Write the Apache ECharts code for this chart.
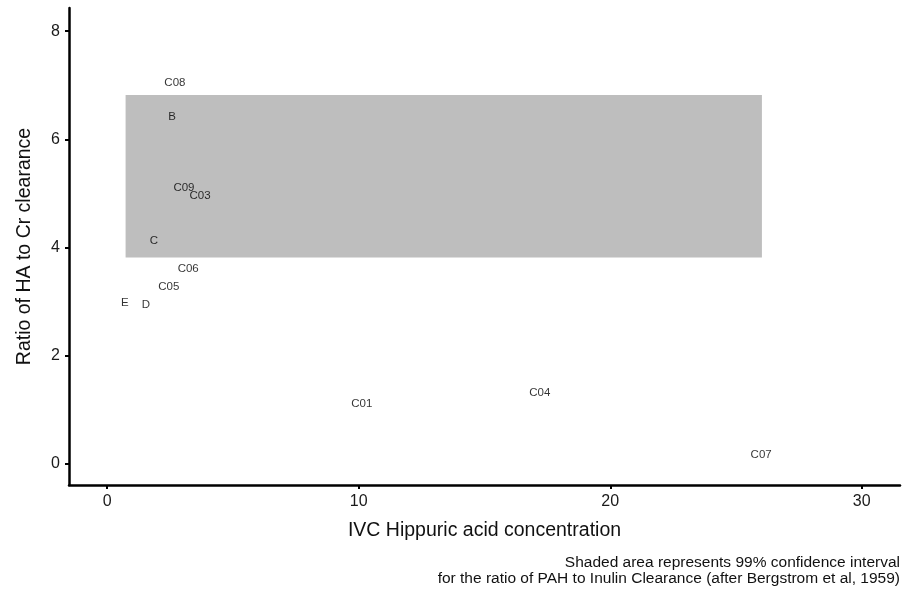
<!DOCTYPE html>
<html>
<head>
<meta charset="utf-8">
<script src="https://cdn.jsdelivr.net/npm/echarts@6/dist/echarts.min.js"></script>
<style>
  html, body { margin: 0; padding: 0; background: #fff; }
  #chart { width: 911px; height: 589px; }
</style>
</head>
<body>
<div id="chart"></div>
<script>
// point labels and their positions
const names = ['C08', 'B', 'C09', 'C03', 'C', 'C06', 'C05', 'E', 'D', 'C01', 'C04', 'C07'];
const hippuric = [2.69, 2.58, 3.05, 3.69, 1.86, 3.22, 2.45, 0.70, 1.54, 10.12, 17.2, 26.0];
const ratio = [7.05, 6.42, 5.11, 4.95, 4.12, 3.60, 3.26, 2.97, 2.93, 1.11, 1.30, 0.15];

// shaded confidence band
const bandX = [0.73, 26.03];
const bandY = [3.81, 6.82];

const xTicks = [0, 10, 20, 30];
const yTicks = [0, 2, 4, 6, 8];

const captionLines = [
	'Shaded area represents 99% confidence interval',
	'for the ratio of PAH to Inulin Clearance (after Bergstrom et al, 1959)'
];

const font = 'Liberation Sans, Arial, sans-serif';

const chart = echarts.init(document.getElementById('chart'));

const points = names.map((n, i) => ({ name: n, value: [hippuric[i], ratio[i]] }));

const option = {
	animation: false,
	grid: { left: 69, right: 11, top: 8, bottom: 104 },
	xAxis: {
		type: 'value',
		min: -1.52,
		max: 31.52,
		splitLine: { show: false },
		axisLine: { onZero: false, lineStyle: { color: '#000', width: 2.5 } },
		axisTick: { customValues: xTicks, length: 4, lineStyle: { color: '#000', width: 2 } },
		axisLabel: { customValues: xTicks, margin: 9, color: '#1a1a1a', fontSize: 16, fontFamily: font },
		name: 'IVC Hippuric acid concentration',
		nameLocation: 'middle',
		nameGap: 36,
		nameTextStyle: { color: '#111', fontSize: 19.5, fontFamily: font }
	},
	yAxis: {
		type: 'value',
		min: -0.40,
		max: 8.43,
		splitLine: { show: false },
		axisLine: { onZero: false, lineStyle: { color: '#000', width: 2.5 } },
		axisTick: { customValues: yTicks, length: 4, lineStyle: { color: '#000', width: 2 } },
		axisLabel: { customValues: yTicks, margin: 9, color: '#1a1a1a', fontSize: 16, fontFamily: font },
		name: 'Ratio of HA to Cr clearance',
		nameLocation: 'middle',
		nameGap: 34,
		nameTextStyle: { color: '#111', fontSize: 19.5, fontFamily: font }
	},
	graphic: captionLines.map((t, i) => ({
		type: 'text',
		right: 11,
		top: 555 + i * 16,
		style: {
			text: t,
			fill: '#111',
			font: '15.5px ' + font
		}
	})),
	series: [{
		type: 'scatter',
		symbolSize: 0,
		data: points,
		label: {
			show: true,
			position: 'inside',
			formatter: p => p.name,
			color: '#000',
			fontSize: 11.5,
			fontFamily: font
		},
		markArea: {
			silent: true,
			itemStyle: { color: '#bebebe', opacity: 1 },
			data: [[
				{ coord: [bandX[0], bandY[0]] },
				{ coord: [bandX[1], bandY[1]] }
			]]
		}
	}]
};

chart.setOption(option);
</script>
</body>
</html>
